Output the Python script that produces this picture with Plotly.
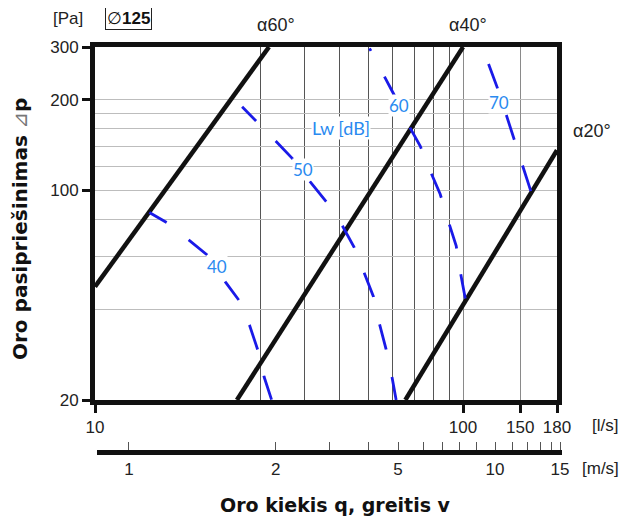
import math
import plotly.graph_objects as go

# ---------------- data ----------------
q_range = [10, 180]          # air flow, l/s
p_range = [20, 300]          # pressure drop, Pa

# damper-angle characteristic lines (end points)
alpha60_q = [10, 29.7]
alpha60_p = [47.7, 300]
alpha40_q = [24.3, 100]
alpha40_p = [20, 300]
alpha20_q = [69.7, 180]
alpha20_p = [20, 136]

# sound power iso-lines Lw [dB]
lw40_q = [14.05, 15.7, 18.0, 20.2, 22.6, 24.6, 26.3, 27.7, 28.8, 30.2]
lw40_p = [84.3, 77.9, 68.2, 60.8, 49.5, 43.0, 35.5, 29.3, 23.9, 20.0]
lw50_q = [25.1, 27.4, 30.9, 34.5, 38.4, 42.5, 47.0, 50.6, 53.9, 57.1, 59.3, 61.8, 64.1, 65.8]
lw50_p = [189.7, 170.4, 146.2, 127.0, 106.7, 91.5, 76.1, 64.5, 53.1, 44.2, 35.8, 29.5, 23.9, 20.0]
lw60_q = [55.7, 60.8, 65.0, 71.1, 76.5, 81.4, 86.7, 91.3, 95.8, 98.3, 101.4]
lw60_p = [297, 243.9, 207.6, 164.9, 140.3, 116.1, 96.9, 78.5, 65.3, 53.5, 43.6]
lw70_q = [117.3, 124.1, 131.1, 137.8, 145.5, 153.0]
lw70_p = [263.3, 218.4, 178.0, 146.9, 120.3, 98.8]

lw_labels = ["40", "50", "60", "70"]
lw_label_q = [21.5, 36.7, 67.1, 125.5]
lw_label_p = [55.9, 117.3, 190.8, 195.6]

# axes (tick / grid positions as drawn on the chart's flow scale)
x_tick_pos = [10, 100, 143, 180]
x_tick_text = ["10", "100", "150", "180"]
x_grid_vals = [28.1, 37.2, 46.3, 55.5, 64.5, 73.6, 82.9, 91.6]
y_tick_vals = [20, 100, 200, 300]
y_tick_text = ["20", "100", "200", "300"]
y_grid_vals = [40, 60, 80, 120, 140, 160, 180]
# velocity scale [m/s] (positions as drawn, expressed on the l/s scale)
ms_labels = ["1", "2", "5", "10", "15"]
ms_major_pos = [12.37, 31.0, 66.6, 122.2, 183.5]
ms_minor_pos = [43.5, 55.2, 77.9, 88.2, 98.1, 109.1, 135.9, 149.3, 161.9, 174.5]

# ---------------- figure ----------------
# the page has an 8px body margin, so the figure is 8px smaller and all
# layout positions below are given in window pixels
OFF = 8
W, H = 629 - OFF, 523 - OFF
ML, MR, MT, MB = 95 - OFF, 61, 47 - OFF, 40
PW, PH = W - ML - MR, H - MB - MT


def px_x(px):
    return (px - OFF - ML) / PW


def px_y(py):
    return (H - MB - (py - OFF)) / PH


BLACK = "#111111"
BLUE = "#1a1ae8"
LBLUE = "#2a8af0"
TICKFONT = dict(family="Liberation Sans, Arial, sans-serif", size=17, color="#222222")

fig = go.Figure()

for qx, py in [(alpha60_q, alpha60_p), (alpha40_q, alpha40_p), (alpha20_q, alpha20_p)]:
    fig.add_trace(go.Scatter(x=qx, y=py, mode="lines",
                             line=dict(color=BLACK, width=4.5),
                             hoverinfo="skip", showlegend=False))

dashes = [
    "20px,28px,24px,32px,23px,27px,26px,27px,25px,200px",
    "20px,28px,25px,28px,26px,29px,25px,27px,26px,28px,26px,28px,24px,200px",
    "3px,29px,24px,33px,24px,27px,26px,28px,25px,26px,27px,200px",
    "26px,28px,26px,27px,27px,200px",
]
for (qx, py), d in zip([(lw40_q, lw40_p), (lw50_q, lw50_p), (lw60_q, lw60_p), (lw70_q, lw70_p)], dashes):
    fig.add_trace(go.Scatter(x=qx, y=py, mode="lines",
                             line=dict(color=BLUE, width=2.8, dash=d),
                             hoverinfo="skip", showlegend=False))

# dummy trace so the velocity axis is drawn
fig.add_trace(go.Scatter(x=[ms_major_pos[0]], y=[1], xaxis="x2", yaxis="y3",
                         mode="markers", marker=dict(opacity=0),
                         hoverinfo="skip", showlegend=False))

annotations = []
for t, qv, pv in zip(lw_labels, lw_label_q, lw_label_p):
    annotations.append(dict(x=math.log10(qv), y=math.log10(pv), xref="x", yref="y",
                            text=t, showarrow=False, bgcolor="white", borderpad=0,
                            xanchor="center", yanchor="middle",
                            font=dict(family="Lato, sans-serif", size=17, color=LBLUE)))
annotations.append(dict(x=math.log10(46.6), y=math.log10(161.1), xref="x", yref="y",
                        text="Lw [dB]", showarrow=False, bgcolor="white", borderpad=0,
                        xanchor="center", yanchor="middle",
                        font=dict(family="Lato, sans-serif", size=18, color=LBLUE)))

afont = dict(family="Liberation Sans, Arial, sans-serif", size=18, color="#222222")
TITLEFONT = dict(family="DejaVu Sans, sans-serif", size=19, color="#111111")
YTITLEFONT = dict(family="DejaVu Sans, sans-serif", size=20, color="#111111")


def paper_note(px, py, text, font, **kw):
    return dict(x=px_x(px), y=px_y(py), xref="paper", yref="paper", text=text,
                showarrow=False, xanchor="center", yanchor="middle", font=font, **kw)


annotations += [
    paper_note(276, 25, "α60°", afont),
    paper_note(468, 25, "α40°", afont),
    paper_note(592, 131, "α20°", afont),
    paper_note(68, 18, "[Pa]", TICKFONT),
    paper_note(128, 18, "∅<b>125</b>",
               dict(family="Liberation Sans, Arial, sans-serif", size=17, color="#111111"),
               bordercolor="#222222", borderwidth=1, borderpad=1),
    paper_note(605, 425, "[l/s]", TICKFONT),
    paper_note(600, 468, "[m/s]", TICKFONT),
    paper_note(335, 505, "<b>Oro kiekis q, greitis v</b>", TITLEFONT),
    paper_note(20, 229, "<b>Oro pasipriešinimas</b> <span style='color:#777'>⊿</span><b>p</b>",
               YTITLEFONT, textangle=-90),
]

fig.update_layout(
    width=W, height=H,
    margin=dict(l=ML, r=MR, t=MT, b=MB),
    paper_bgcolor="white", plot_bgcolor="white",
    showlegend=False,
    annotations=annotations,
    xaxis=dict(type="log", range=[math.log10(q_range[0]), math.log10(q_range[1])],
               domain=[0, px_x(557)], anchor="y",
               showline=True, mirror=True, linewidth=5, linecolor=BLACK,
               ticks="outside", ticklen=8, tickwidth=2.5, tickcolor=BLACK,
               tickvals=x_tick_pos, ticktext=x_tick_text, tickfont=TICKFONT, tickangle=0,
               showgrid=True, gridcolor="#8a8a8a", gridwidth=1, zeroline=False,
               minor=dict(tickvals=x_grid_vals, ticks="", showgrid=True,
                          gridcolor="#555555", gridwidth=1)),
    yaxis=dict(type="log", range=[math.log10(p_range[0]), math.log10(p_range[1])],
               domain=[px_y(400), 1], anchor="x",
               showline=True, mirror=True, linewidth=5, linecolor=BLACK,
               ticks="outside", ticklen=8, tickwidth=2.5, tickcolor=BLACK,
               tickvals=y_tick_vals, ticktext=y_tick_text, tickfont=TICKFONT,
               showgrid=True, gridcolor="#bdbdbd", gridwidth=1, zeroline=False,
               minor=dict(tickvals=y_grid_vals, ticks="", showgrid=True,
                          gridcolor="#bdbdbd", gridwidth=1)),
    xaxis2=dict(type="log", range=[1 + 2 / 368, 1 + 467 / 368],
                domain=[px_x(97), px_x(562)], anchor="free", position=px_y(452),
                showline=True, linewidth=4.5, linecolor=BLACK,
                ticks="inside", ticklen=8, tickwidth=1, tickcolor="#555555",
                tickvals=ms_major_pos, ticktext=ms_labels, tickfont=TICKFONT, tickangle=0,
                showgrid=False, zeroline=False,
                minor=dict(tickvals=ms_minor_pos, ticks="inside", ticklen=8,
                           tickwidth=1, tickcolor="#555555", showgrid=False)),
    yaxis3=dict(domain=[0, 0.05], anchor="x2", visible=False, range=[0, 2]),
)

fig.write_html("out.html")
